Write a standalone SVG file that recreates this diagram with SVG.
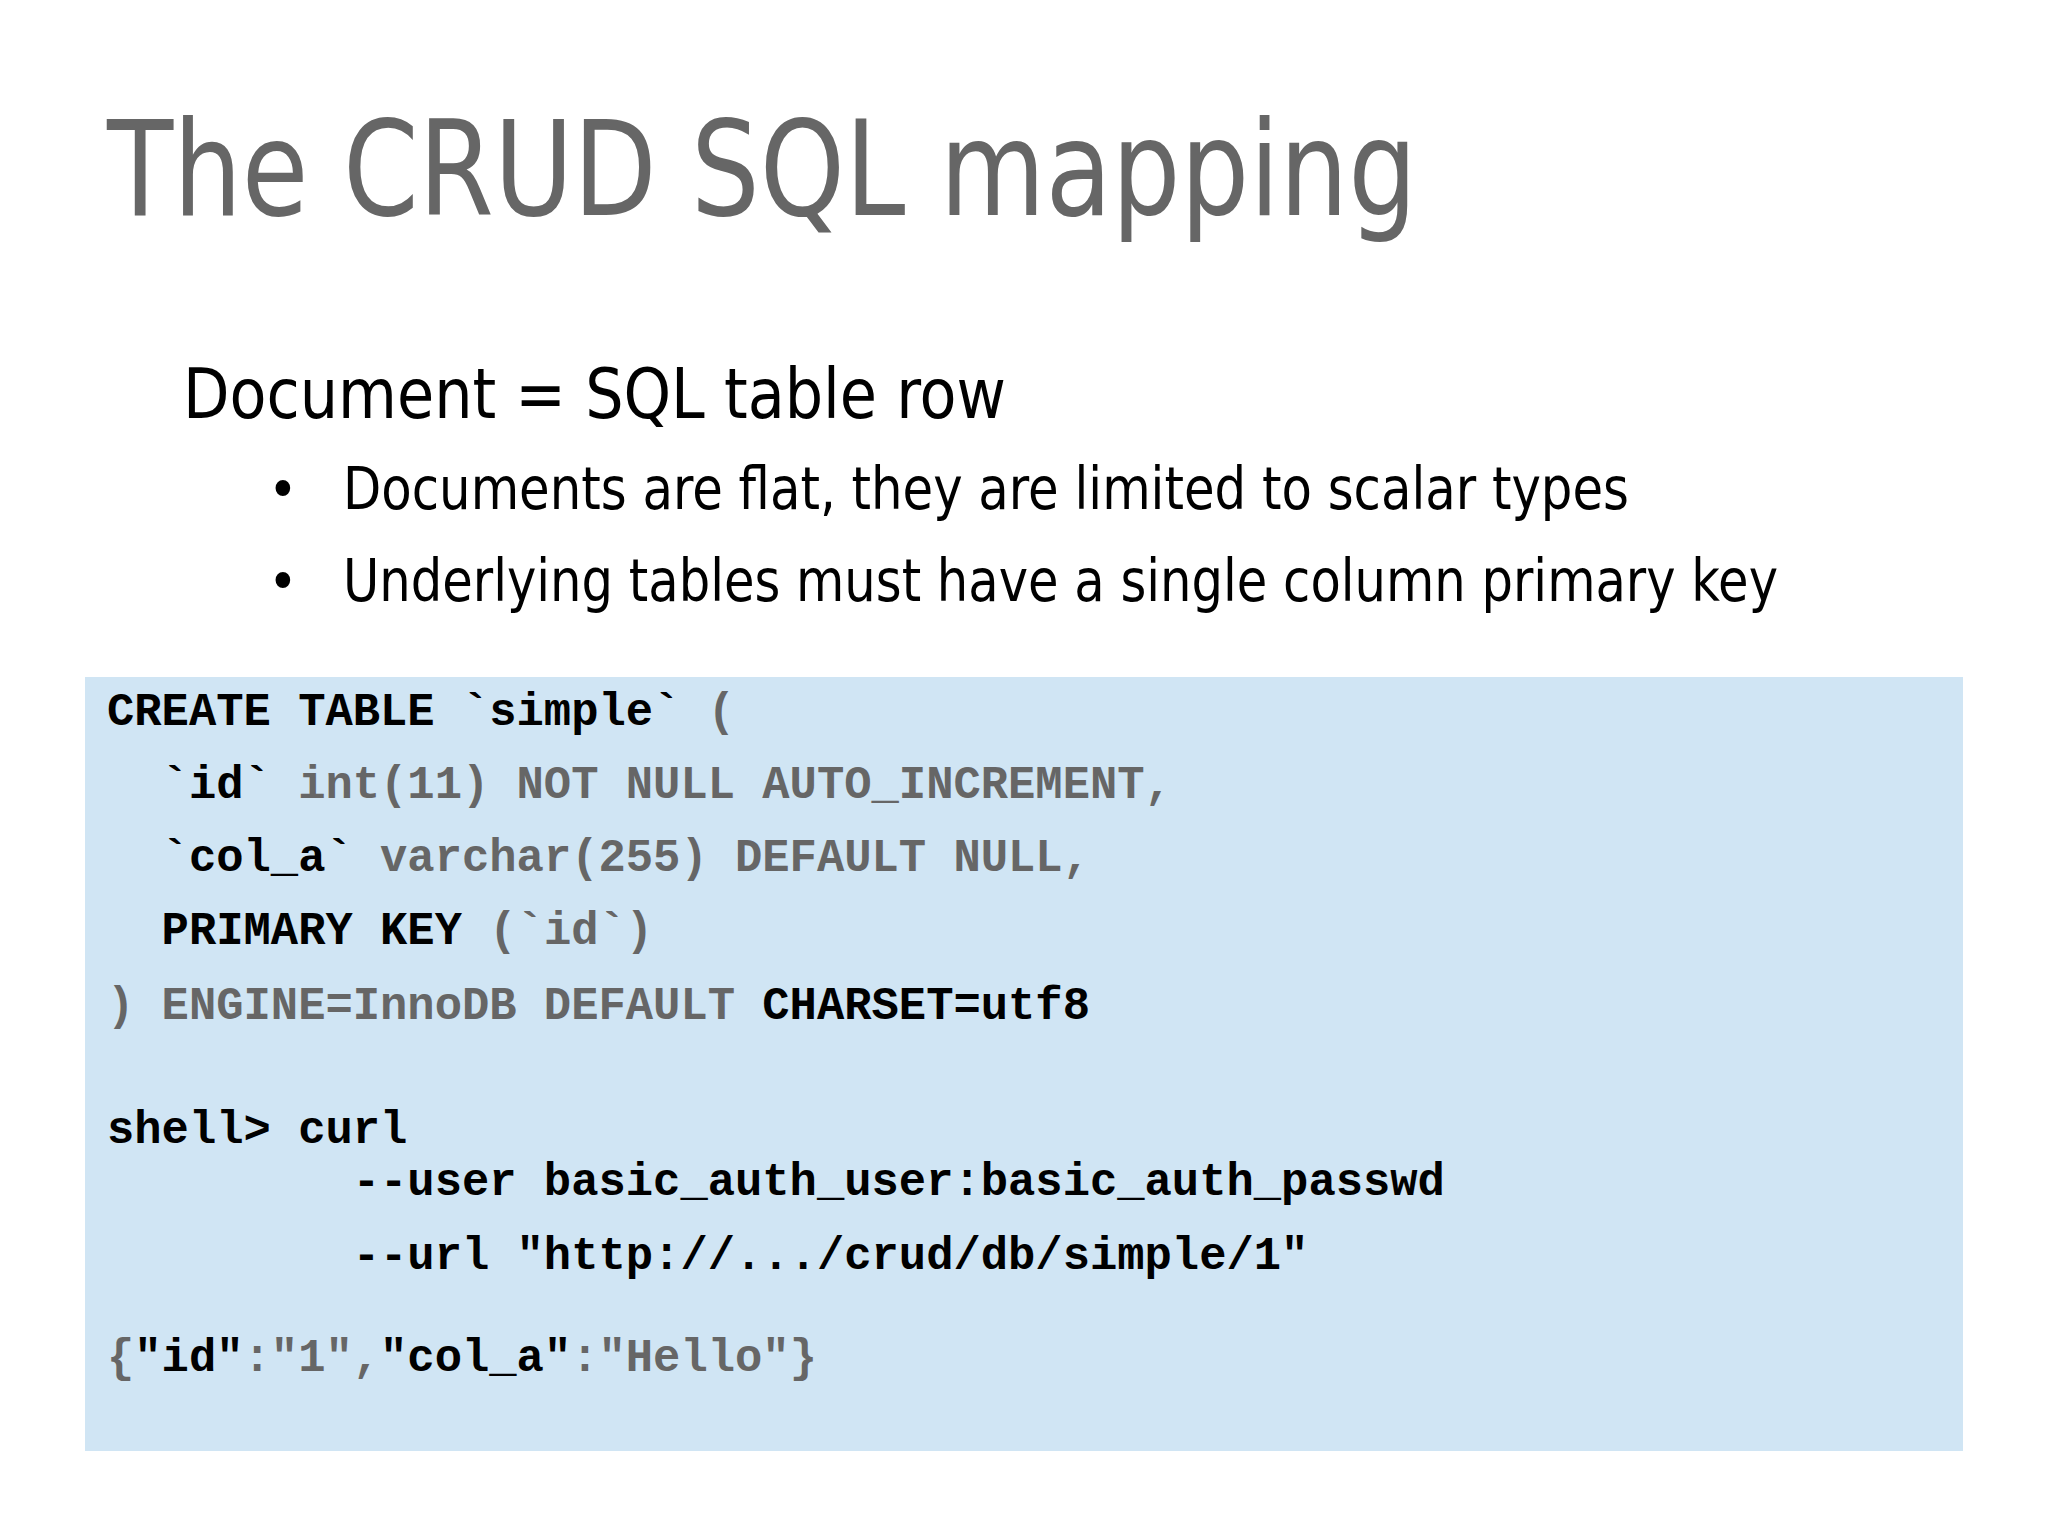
<svg xmlns="http://www.w3.org/2000/svg" width="2048" height="1536" viewBox="0 0 2048 1536">
<style>
.t{font-family:"DejaVu Sans Condensed","Open Sans",sans-serif;}
.c{font-family:"Liberation Mono",monospace;font-weight:bold;font-size:45.5px;white-space:pre;}
.k{fill:#000}
.g{fill:#666}
</style>
<rect width="2048" height="1536" fill="#fff"/>
<g id="title"><text class="t" x="107" y="215" font-size="132" fill="#666" textLength="1310" lengthAdjust="spacingAndGlyphs">The CRUD SQL mapping</text></g>
<g id="bullets">
<text class="t" x="183" y="418" font-size="70" fill="#000" textLength="823" lengthAdjust="spacingAndGlyphs">Document = SQL table row</text>
<text class="t" x="268" y="509" font-size="56" fill="#000">•</text>
<text class="t" x="343" y="509" font-size="58" fill="#000" textLength="1286" lengthAdjust="spacingAndGlyphs">Documents are flat, they are limited to scalar types</text>
<text class="t" x="268" y="601" font-size="56" fill="#000">•</text>
<text class="t" x="343" y="601" font-size="58" fill="#000" textLength="1435" lengthAdjust="spacingAndGlyphs">Underlying tables must have a single column primary key</text>
</g>
<g id="code">
<rect x="85" y="677" width="1878" height="774" fill="#d0e5f4"/>
<text class="c" x="107" y="725"><tspan class="k">CREATE TABLE `simple`</tspan><tspan class="g"> (</tspan></text>
<text class="c" x="107" y="798"><tspan class="k">  `id`</tspan><tspan class="g"> int(11) NOT NULL AUTO_INCREMENT,</tspan></text>
<text class="c" x="107" y="871"><tspan class="k">  `col_a`</tspan><tspan class="g"> varchar(255) DEFAULT NULL,</tspan></text>
<text class="c" x="107" y="944"><tspan class="k">  PRIMARY KEY</tspan><tspan class="g"> (`id`)</tspan></text>
<text class="c" x="107" y="1019"><tspan class="g">) ENGINE=InnoDB DEFAULT</tspan><tspan class="k"> CHARSET=utf8</tspan></text>
<text class="c k" x="107" y="1143">shell&gt; curl</text>
<text class="c k" x="107" y="1195">         --user basic_auth_user:basic_auth_passwd</text>
<text class="c k" x="107" y="1269">         --url "http://.../crud/db/simple/1"</text>
<text class="c" x="107" y="1371"><tspan class="g">{</tspan><tspan class="k">"id"</tspan><tspan class="g">:"1",</tspan><tspan class="k">"col_a"</tspan><tspan class="g">:"Hello"}</tspan></text>
</g>
</svg>
